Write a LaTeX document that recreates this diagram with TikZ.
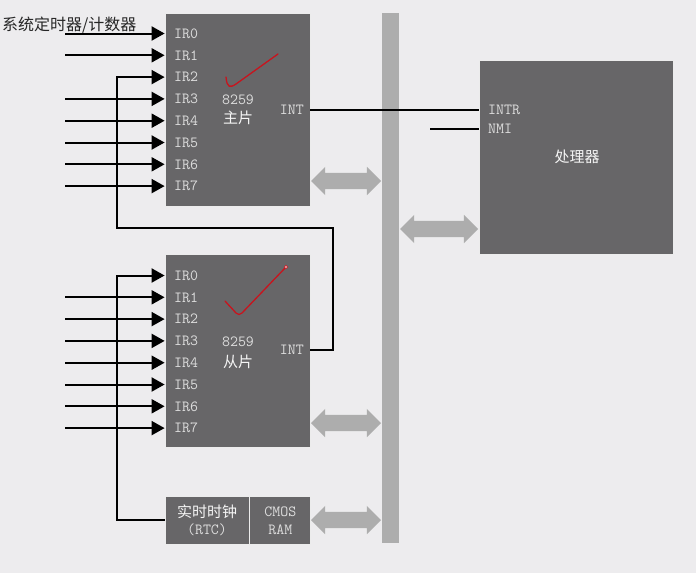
\documentclass[tikz,border=0pt]{standalone}
\usepackage{fontspec}
\newfontfamily\cjk{Noto Sans CJK SC}
\usetikzlibrary{arrows.meta,positioning,shapes.arrows,calc}
\definecolor{bgcol}{HTML}{EDECEE}
\definecolor{chipgray}{HTML}{676668}
\definecolor{busgray}{HTML}{ADADAD}
\definecolor{pinwhite}{HTML}{DDDDDD}
\definecolor{tickred}{HTML}{C8141E}

\begin{document}
\begin{tikzpicture}[x=1pt,y=-1pt,
   chip/.style={draw=white!85!gray,line width=0.8pt,fill=chipgray,inner sep=0pt},
   pinlbl/.style={text=pinwhite,font=\ttfamily\fontsize{15.5}{16}\selectfont,inner sep=0pt,anchor=west},
   cntext/.style={text=white!92!gray,font=\cjk\fontsize{15}{16}\selectfont,inner sep=0pt},
   irline/.style={line width=2pt,-{Triangle[length=13pt,width=14pt]}},
   wire/.style={line width=1.6pt},
   busarrow/.style={double arrow,fill=busgray,minimum height=70pt,inner xsep=0pt,inner ysep=8pt,
               double arrow head extend=6pt}]
  \useasboundingbox[fill=bgcol] (0,0) rectangle (696,573);
  \node[fill=busgray,minimum width=17pt,minimum height=530pt,inner sep=0pt] (bus) at (390.5,278) {};

  \node[chip,minimum width=145pt,minimum height=193pt] (master) at (237.5,109.5) {};
  \node[chip,minimum width=145pt,minimum height=193pt] (slave) at (237.5,350.5) {};
  \node[chip,minimum width=84pt,minimum height=48pt] (rtc) at (207,520) {};
  \node[chip,minimum width=61pt,minimum height=48pt,right=0pt of rtc] (cmos) {};
  \node[chip,minimum width=194pt,minimum height=194pt] (cpu) at (576,157) {};

  \foreach \i in {0,...,7} {
    \node[pinlbl] (m\i) at (174,{33.5+21.8*\i}) {IR\i};
    \node[pinlbl] (s\i) at (174,{275.5+21.8*\i}) {IR\i};
  }
  \foreach \i in {0,1,3,4,5,6,7} {
    \coordinate (min\i) at (65,{33.5+21.8*\i});
    \draw[irline] (min\i) -- (min\i -| master.west);
  }
  \foreach \i in {1,...,7} {
    \coordinate (sin\i) at (65,{275.5+21.8*\i});
    \draw[irline] (sin\i) -- (sin\i -| slave.west);
  }
  \node[anchor=west,inner sep=0pt,font=\cjk\fontsize{16}{17}\selectfont,text=black!85] (timer) at (2,25) {系统定时器/计数器};

  \node[pinlbl,anchor=center] (mnum) at (238,100) {8259};
  \node[cntext] (mname) at (238,118) {主片};
  \node[pinlbl,anchor=east] (mint) at (304,110) {INT};
  \node[pinlbl,anchor=center] (snum) at (238,342) {8259};
  \node[cntext] (sname) at (238,362) {从片};
  \node[pinlbl,anchor=east] (sint) at (304,350) {INT};

  \node[cntext] (rtcname) at (207,512) {实时时钟};
  \node[pinlbl,anchor=center] (rtcabbr) at (207,530) {(RTC)};
  \node[pinlbl,anchor=center] (cmosname) at (cmos.center |- rtcname) {CMOS};
  \node[pinlbl,anchor=center] (ramname) at (cmos.center |- rtcabbr) {RAM};

  \node[pinlbl] (intr) at (488,110) {INTR};
  \node[pinlbl] (nmi) at (488,129) {NMI};
  \node[cntext] (cpuname) at (577,157) {处理器};

  \draw[wire] (master.east |- intr) -- (cpu.west |- intr);
  \coordinate (nmiin) at (430,129);
  \draw[wire] (nmiin) -- (cpu.west |- nmi);

  \coordinate (jogA) at (333,228);
  \coordinate (jogB) at (117,228);
  \draw[irline] (slave.east |- sint) -| (jogA) -- (jogB) |- (m2 -| master.west);
  \coordinate (jogC) at (117,520);
  \draw[irline] (rtc.west) -- (jogC) |- (s0 -| slave.west);

  \node[busarrow] (mbus) at (346,181) {};
  \node[busarrow] (sbus) at (346,423) {};
  \node[busarrow] (rbus) at (346,520) {};
  \node[busarrow,minimum height=78pt] (cbus) at (439,229) {};

  \draw[tickred,line width=1.3pt,line cap=round,line join=round]
       (226,77) .. controls (227,88) and (230,88) .. (236,84) -- (278,54);
  \draw[tickred,line width=1.3pt,line cap=round,line join=round]
       (225,301) -- (236,313) .. controls (238,315) and (240,315) .. (242,313) -- (286,267);
  \filldraw[fill=white,draw=tickred,line width=0.6pt] (286,267) circle (1.6pt);
\end{tikzpicture}
\end{document}
